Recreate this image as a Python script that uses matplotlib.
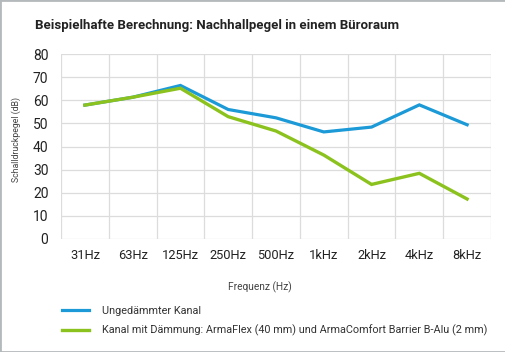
import numpy as np
import matplotlib.pyplot as plt
from matplotlib.patches import Rectangle

plt.rcParams['font.family'] = ['Roboto', 'DejaVu Sans']

freqs = ['31Hz', '63Hz', '125Hz', '250Hz', '500Hz', '1kHz', '2kHz', '4kHz', '8kHz']
ungedaemmt = [57.9, 61.3, 66.4, 56, 52.4, 46.3, 48.4, 58, 49.4]
gedaemmt = [57.9, 61.3, 65.2, 52.9, 46.7, 36.3, 23.6, 28.4, 17.3]
y_ticks = [0, 10, 20, 30, 40, 50, 60, 70, 80]

blue = '#1b9ad7'
green = '#8cc21e'
grid = '#dcdcdc'

fig = plt.figure(figsize=(5.06, 3.52), dpi=100)
ax = fig.add_axes([61/506, 1-239/352, 430/506, 185/352])

x = np.arange(len(freqs))
l1, = ax.plot(x, ungedaemmt, color=blue, lw=2.3, solid_joinstyle='miter',
              label='Ungedämmter Kanal')
l2, = ax.plot(x, gedaemmt, color=green, lw=2.4, solid_joinstyle='miter',
              label='Kanal mit Dämmung: ArmaFlex (40 mm) und ArmaComfort Barrier B-Alu (2 mm)')

ax.set_xlim(-0.5, len(freqs) - 0.5)
ax.set_ylim(0, 80)
ax.set_yticks(y_ticks)
ax.set_xticks(x)
ax.set_xticklabels(freqs)
# Gitterlinien zwischen den Kategorien
ax.set_xticks(np.arange(-0.5, len(freqs)), minor=True)
ax.grid(True, which='minor', axis='x', color=grid, lw=0.9)
ax.grid(True, which='major', axis='y', color=grid, lw=0.9)
ax.set_axisbelow(True)
ax.tick_params(which='both', length=0)
ax.tick_params(axis='y', labelsize=10, pad=9, colors='#222222')
ax.tick_params(axis='x', labelsize=9.3, pad=7, colors='#222222')
for s in ax.spines.values():
    s.set_visible(False)

ax.set_xlabel('Frequenz (Hz)', fontsize=7.3, color='#444444')
ax.xaxis.set_label_coords((260 - 61) / 430, -(281 - 239) / 185)
fig.text(16/506, 1-140/352, 'Schalldruckpegel (dB)', rotation=90, fontsize=6.3,
         color='#444444', ha='center', va='center')

fig.text(35/506, 1-26/352, 'Beispielhafte Berechnung: Nachhallpegel in einem Büroraum',
         fontsize=9.5, fontweight='bold', color='#222222', va='center')

fig.legend(handles=[l1, l2], loc='upper left', bbox_to_anchor=(52/506, 1-296/352),
           frameon=False, fontsize=7.8, handlelength=2.5, handletextpad=1.2,
           labelspacing=0.85, labelcolor='#333333')

# grauer Rahmen
fig.patches.append(Rectangle((0, 0), 1, 1, transform=fig.transFigure, fill=False,
                             edgecolor='#b4b9bc', lw=2))

fig.savefig('out.png', dpi=100)
